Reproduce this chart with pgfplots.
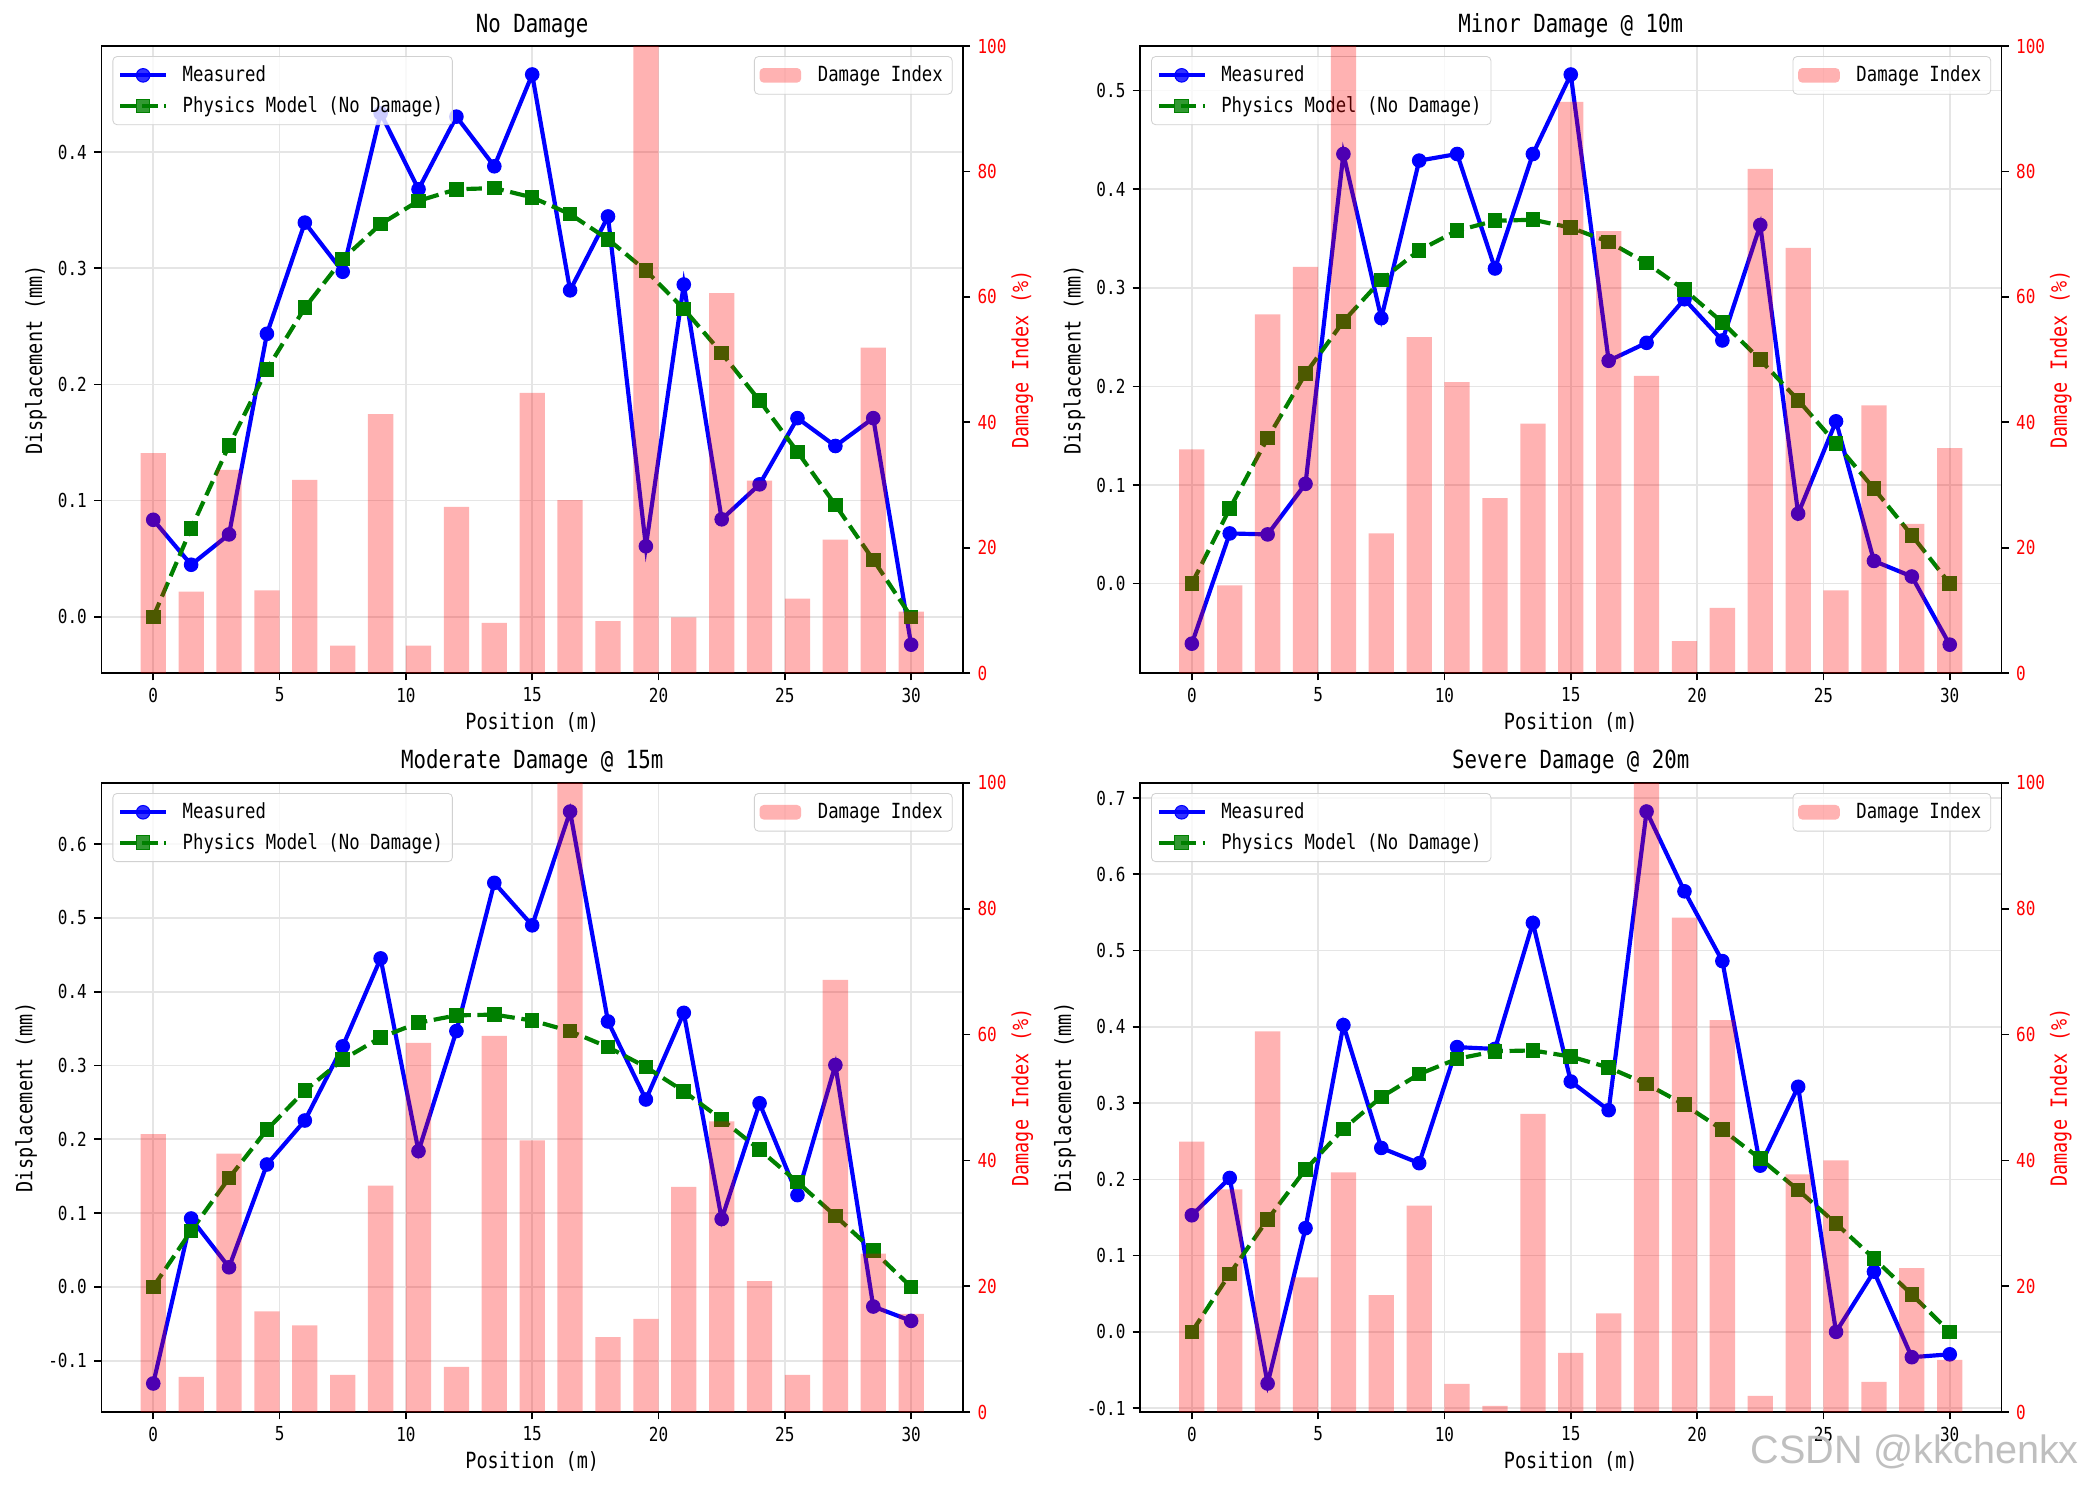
\documentclass[border=0pt]{standalone}
\usepackage{fontspec}
\setmainfont{DejaVu Sans Mono}[FakeStretch=0.83]
\newfontfamily\wmfont{Liberation Sans}
\usepackage{pgfplots}
\usepackage{pgfplotstable}
\pgfplotsset{compat=1.18}

\definecolor{mblue}{RGB}{0,0,255}
\definecolor{mgreen}{RGB}{0,128,0}

\pgfplotstableread{
x model
0 0
1.5 0.076
3 0.1475
4.5 0.213
6 0.266
7.5 0.308
9 0.338
10.5 0.358
12 0.368
13.5 0.369
15 0.361
16.5 0.3466
18 0.325
19.5 0.298
21 0.265
22.5 0.227
24 0.186
25.5 0.142
27 0.0963
28.5 0.049
30 0
}\modeltab

\pgfplotstableread{
x m d
0 0.0835 35.1
1.5 0.0448 13.0
3 0.0709 32.4
4.5 0.2436 13.2
6 0.3393 30.8
7.5 0.297 4.4
9 0.4334 41.3
10.5 0.368 4.4
12 0.4305 26.5
13.5 0.3878 8.0
15 0.4668 44.7
16.5 0.281 27.6
18 0.3446 8.3
19.5 0.0607 100
21 0.286 8.9
22.5 0.0839 60.6
24 0.114 30.7
25.5 0.171 11.9
27 0.147 21.3
28.5 0.171 51.9
30 -0.024 9.8
}\tabA

\pgfplotstableread{
x m d
0 -0.0609 35.7
1.5 0.0509 14.0
3 0.0499 57.2
4.5 0.1012 64.8
6 0.4357 100
7.5 0.2692 22.3
9 0.429 53.6
10.5 0.4357 46.4
12 0.3196 27.9
13.5 0.4357 39.8
15 0.5163 91.1
16.5 0.226 70.5
18 0.2442 47.4
19.5 0.2884 5.1
21 0.2466 10.4
22.5 0.3637 80.4
24 0.071 67.8
25.5 0.1646 13.2
27 0.023 42.7
28.5 0.0072 23.8
30 -0.0619 35.9
}\tabB

\pgfplotstableread{
x m d
0 -0.1309 44.2
1.5 0.0927 5.6
3 0.0266 41.1
4.5 0.1659 16.0
6 0.2255 13.8
7.5 0.326 5.9
9 0.4452 36.0
10.5 0.184 58.7
12 0.3467 7.2
13.5 0.5476 59.8
15 0.49 43.2
16.5 0.6442 100
18 0.3597 11.9
19.5 0.254 14.8
21 0.3714 35.8
22.5 0.092 46.2
24 0.2489 20.8
25.5 0.1244 5.9
27 0.3007 68.7
28.5 -0.0266 25.2
30 -0.046 15.6
}\tabC

\pgfplotstableread{
x m d
0 0.1529 43.0
1.5 0.2018 35.4
3 -0.0677 60.5
4.5 0.136 21.4
6 0.4023 38.1
7.5 0.2412 18.6
9 0.2212 32.8
10.5 0.3734 4.5
12 0.371 1.0
13.5 0.5363 47.4
15 0.3283 9.4
16.5 0.2907 15.7
18 0.6823 100
19.5 0.5777 78.6
21 0.4862 62.3
22.5 0.218 2.6
24 0.3214 37.8
25.5 0.0 40.0
27 0.079 4.8
28.5 -0.0332 22.9
30 -0.0294 8.3
}\tabD

\pgfplotsset{
  common/.style={
    scale only axis, width=413.5pt,
    xmin=-2.05, xmax=32.05,
    /pgf/number format/assume math mode=true,
    tick align=outside, major tick length=3.5pt,
    tick style={black, line width=0.8pt},
    axis line style={line width=0.8pt},
    tick label style={font=\fontsize{9.25}{11}\selectfont},
    label style={font=\fontsize{10.7}{12}\selectfont},
  },
  leftax/.style={common,
    xtick={0,5,...,30}, xtick pos=bottom, ytick pos=left,
    grid=major, major grid style={color=black!10, line width=0.8pt},
    xlabel={Position (m)}, ylabel={Displacement (mm)},
    xlabel style={yshift=2pt}, ylabel style={yshift=-1.5pt},
    yticklabel style={/pgf/number format/fixed, /pgf/number format/fixed zerofill, /pgf/number format/precision=1},
    title style={font=\fontsize{12}{14}\selectfont, yshift=-5.4pt},
    legend style={at={(0.0128,0.984)}, anchor=north west, draw=black!18, rounded corners=2pt,
      fill=white, fill opacity=0.8, text opacity=1, draw opacity=1,
      font=\fontsize{10}{12}\selectfont, inner sep=2.5pt, row sep=1.5pt},
    legend cell align=left,
  },
  rightax/.style={common,
    ymin=0, ymax=100, ytick={0,20,...,100},
    axis x line=none, axis y line*=right,
    yticklabel style={text=red},
    ylabel={Damage Index (\%)}, ylabel style={text=red, yshift=4.5pt},
    legend style={at={(0.988,0.984)}, anchor=north east, draw=black!18, rounded corners=2pt,
      fill=white, fill opacity=0.8, text opacity=1, draw opacity=1,
      font=\fontsize{10}{12}\selectfont, inner sep=2.5pt},
  },
  linelegend/.style={legend image code/.code={%
      \draw[mark repeat=2, mark phase=2] plot coordinates {(0pt,0pt) (11pt,0pt) (22pt,0pt)};
      \path (27pt,0pt);}},
  meas/.style={color=mblue, line width=2pt, mark=*, mark size=3.25pt, mark options={solid, line width=0.5pt}, linelegend},
  phys/.style={color=mgreen, line width=2pt, dash pattern=on 7.4pt off 3.2pt, mark=square*, mark size=3.25pt, mark options={solid, line width=0.5pt}, linelegend},
  bars/.style={ybar, bar width=1, bar shift=0pt, fill=red, fill opacity=0.3, draw=none,
    legend image code/.code={%
      \fill[red, fill opacity=0.3, draw=none] (0pt,-3.5pt) rectangle (20pt,3.5pt);
      \path (26pt,0pt);}},
}

\newcommand{\panel}[8]{%
  % #1 x, #2 y(top), #3 height, #4 title, #5 table, #6 ymin, #7 ymax, #8 yticks
  \begin{axis}[leftax, at={(#1,#2)}, anchor=north west, height=#3,
      title={#4}, ymin=#6, ymax=#7, ytick={#8}]
    \addplot[meas] table[x=x, y=m] {#5};
    \addlegendentry{Measured}
    \addplot[phys] table[x=x, y=model] {\modeltab};
    \addlegendentry{Physics Model (No Damage)}
  \end{axis}
  \begin{axis}[rightax, at={(#1,#2)}, anchor=north west, height=#3]
    \addplot[bars] table[x=x, y=d] {#5};
    \addlegendentry{Damage Index}
  \end{axis}%
}

\begin{document}
\begin{tikzpicture}
\path[use as bounding box] (0,0) rectangle (1000.3pt,712.8pt);
\panel{48.7pt}{690.7pt}{301pt}{No Damage}{\tabA}{-0.0485}{0.4913}{0,0.1,0.2,0.3,0.4}
\panel{547.2pt}{690.7pt}{301pt}{Minor Damage @ 10m}{\tabB}{-0.0908}{0.5452}{0,0.1,0.2,0.3,0.4,0.5}
\panel{48.7pt}{337pt}{302pt}{Moderate Damage @ 15m}{\tabC}{-0.1697}{0.683}{-0.1,0,0.1,0.2,0.3,0.4,0.5,0.6}
\panel{547.2pt}{337pt}{302pt}{Severe Damage @ 20m}{\tabD}{-0.1052}{0.7198}{-0.1,0,0.1,0.2,0.3,0.4,0.5,0.6,0.7}
\node[anchor=south east, text=black!25, font=\wmfont\fontsize{19}{19}\selectfont, inner sep=0pt] at (998pt,7.7pt) {CSDN @kkchenkx};
\end{tikzpicture}
\end{document}
